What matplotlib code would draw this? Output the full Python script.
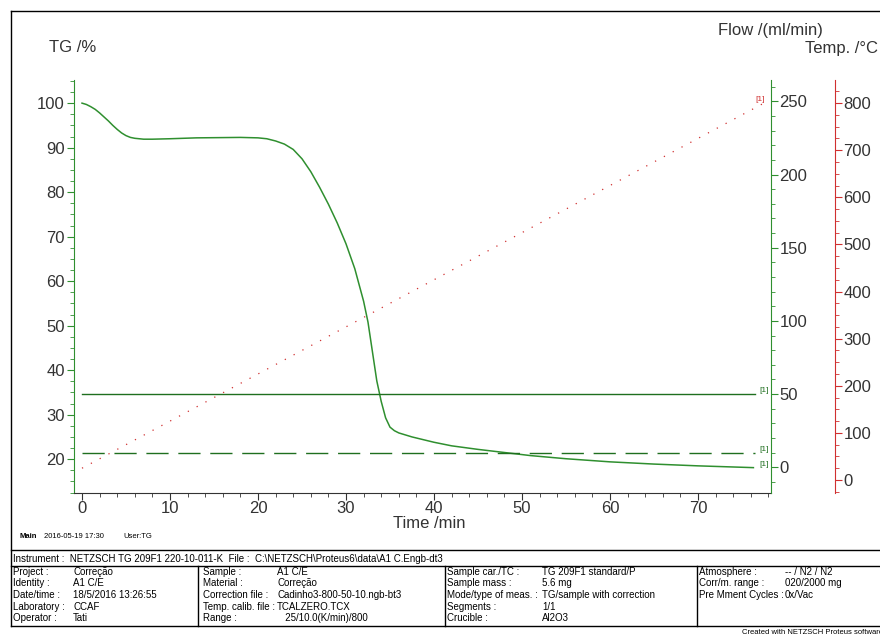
import numpy as np
import matplotlib
matplotlib.use("Agg")
import matplotlib.pyplot as plt
from matplotlib import ticker as tk
from matplotlib.lines import Line2D

plt.rcParams['font.family'] = ['Liberation Sans', 'DejaVu Sans']

# TG curve (time /min, mass /%)
tg_time = [0, 0.5, 1, 1.5, 2, 2.5, 3, 3.5, 4, 4.5, 5, 5.5, 6, 7, 8, 10, 13, 18,
           20, 21, 22, 23, 24, 25, 26, 27, 28, 29, 30, 31, 32, 32.5, 33, 33.5,
           34, 34.5, 35, 35.5, 36, 37.5, 40, 42, 45, 48, 51, 55, 60, 65, 70, 76.3]
tg_mass = [100, 99.7, 99.2, 98.6, 97.8, 96.9, 96.0, 95.0, 94.1, 93.3, 92.7, 92.3, 92.1,
           91.9, 91.9, 92.0, 92.2, 92.3, 92.2, 92.0, 91.5, 90.8, 89.6, 87.5, 84.6,
           81.1, 77.3, 73.1, 68.4, 62.8, 55.5, 50.8, 44.2, 37.6, 33.0, 29.3, 27.2,
           26.4, 25.9, 25.0, 23.8, 23.0, 22.2, 21.5, 20.8, 20.1, 19.4, 18.9, 18.5, 18.1]

# gas flows (ml/min) and temperature program
flow_time = [0, 76.5]
flow_purge = [50, 50]
flow_protect = [10, 10]
temp_time = [0, 77.5]
temp_prog = [25, 800]

W, H = 880, 635
green = '#2f8f2f'
dgreen = '#1f6f1f'
red = '#d03030'
txt = '#333333'
fs = 12


def fx(x):
    return x / W


def fy(y):
    return 1 - y / H


fig = plt.figure(figsize=(8.8, 6.35), dpi=100)

# frame / table overlay in pixel coords
bg = fig.add_axes([0, 0, 1, 1], zorder=-1)
bg.set_xlim(0, W)
bg.set_ylim(H, 0)
bg.axis('off')
for (x0, y0, x1, y1) in [(11, 11, W, 11), (11, 11, 11, 626), (11, 550, W, 550),
                         (11, 566, W, 566), (11, 626, W, 626),
                         (198, 566, 198, 626), (445, 566, 445, 626), (697, 566, 697, 626)]:
    bg.add_line(Line2D([x0, x1], [y0, y1], color='black', lw=1.0))

bg.text(20, 537, "Main", fontsize=5.5, fontweight='bold', va='center')
bg.text(44, 537, "2016-05-19 17:30", fontsize=5.5, va='center')
bg.text(123, 537, "User:TG", fontsize=5.5, va='center')
bg.text(13, 558.5, "Instrument :  NETZSCH TG 209F1 220-10-011-K  File :  C:\\NETZSCH\\Proteus6\\data\\A1 C.Engb-dt3",
        fontsize=7, va='center')

rows_y = [572, 583.5, 595, 606.5, 618]
cols = [
    (13, 73, ["Project :", "Identity :", "Date/time :", "Laboratory :", "Operator :"],
     ["Correção", "A1 C/E", "18/5/2016 13:26:55", "CCAF", "Tati"]),
    (203, 277, ["Sample :", "Material :", "Correction file :", "Temp. calib. file :", "Range :"],
     ["A1 C/E", "Correção", "Cadinho3-800-50-10.ngb-bt3", "TCALZERO.TCX", "   25/10.0(K/min)/800"]),
    (447, 542, ["Sample car./TC :", "Sample mass :", "Mode/type of meas. :", "Segments :", "Crucible :"],
     ["TG 209F1 standard/P", "5.6 mg", "TG/sample with correction", "1/1", "Al2O3"]),
    (699, 785, ["Atmosphere :", "Corr/m. range :", "Pre Mment Cycles :"],
     ["-- / N2 / N2", "020/2000 mg", "0x/Vac"]),
]
for xl, xv, labels, values in cols:
    for i, (lab, val) in enumerate(zip(labels, values)):
        bg.text(xl, rows_y[i], lab, fontsize=7, va='center')
        bg.text(xv, rows_y[i], val, fontsize=7, va='center')
bg.text(742, 632, "Created with NETZSCH Proteus software", fontsize=5.5, va='center')

# main axes
ax = fig.add_axes([fx(74), fy(493), (771 - 74) / W, (493 - 80) / H])
ax.patch.set_alpha(0)
ax.plot(tg_time, tg_mass, color=green, lw=1.1)
ax.set_xlim(-0.91, 78.3)
ax.set_ylim(12.4, 105.2)
ax.xaxis.set_minor_locator(tk.MultipleLocator(2))
ax.yaxis.set_minor_locator(tk.MultipleLocator(2.5))
ax.set_xticks(np.arange(0, 71, 10))
ax.set_yticks(np.arange(20, 101, 10))
ax.spines['top'].set_visible(False)
ax.spines['right'].set_visible(False)
ax.spines['left'].set_color(green)
ax.spines['bottom'].set_color('#333333')
ax.tick_params(axis='x', which='major', length=5, color='#333333', labelsize=fs,
               labelcolor=txt, pad=1)
ax.tick_params(axis='x', which='minor', length=3, color='#333333')
ax.tick_params(axis='y', which='major', length=5, color=green, labelsize=fs,
               labelcolor=txt, pad=1.5)
ax.tick_params(axis='y', which='minor', length=3, color=green)

# flow axis
ax2 = ax.twinx()
ax2.plot(flow_time, flow_purge, color=dgreen, lw=1.0)
ax2.plot(flow_time, flow_protect, color=dgreen, lw=1.0, dashes=(16, 7))
ax2.set_ylim(-17.6, 264.6)
ax2.yaxis.set_minor_locator(tk.MultipleLocator(10))
ax2.set_yticks(np.arange(0, 251, 50))
for s in ['top', 'left', 'bottom']:
    ax2.spines[s].set_visible(False)
ax2.spines['right'].set_color(green)
ax2.tick_params(axis='y', which='major', length=5, color=green, labelsize=fs,
                labelcolor=txt, pad=1)
ax2.tick_params(axis='y', which='minor', length=3, color=green)

# temperature axis
ax3 = ax.twinx()
ax3.plot(temp_time, temp_prog, color=red, lw=0.9, linestyle=(0, (1, 7)))
ax3.set_ylim(-27.6, 849)
ax3.set_yticks(np.arange(0, 801, 100))
ax3.yaxis.set_minor_locator(tk.MultipleLocator(25))
for s in ['top', 'left', 'bottom']:
    ax3.spines[s].set_visible(False)
ax3.spines['right'].set_position(('axes', (835 - 74) / (771 - 74)))
ax3.spines['right'].set_color(red)
ax3.tick_params(axis='y', which='major', length=5, color=red, labelsize=fs,
                labelcolor=txt, pad=1)
ax3.tick_params(axis='y', which='minor', length=3, color=red)

# curve tags
ax2.text(77.0, 50, "[1]", color=dgreen, fontsize=6, va='bottom', ha='left')
ax2.text(77.0, 10, "[1]", color=dgreen, fontsize=6, va='bottom', ha='left')
ax.text(77.0, 18.0, "[1]", color=dgreen, fontsize=6, va='bottom', ha='left')
ax3.text(76.5, 800, "[1]", color=red, fontsize=6, va='bottom', ha='left')

# axis titles
fig.text(fx(73), fy(48), "TG /%", fontsize=fs, color=txt, ha='center', va='center')
fig.text(fx(429), fy(524), "Time /min", fontsize=fs, color=txt, ha='center', va='center')
fig.text(fx(770), fy(30), "Flow /(ml/min)", fontsize=fs, color=txt, ha='center', va='center')
fig.text(fx(841), fy(48), "Temp. /°C", fontsize=fs, color=txt, ha='center', va='center')

fig.savefig("out.png", dpi=100)
